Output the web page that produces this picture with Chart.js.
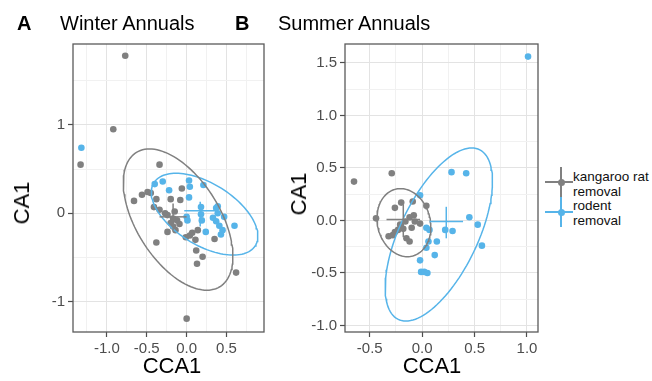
<!DOCTYPE html>
<html>
<head>
<meta charset="utf-8">
<script src="https://cdn.jsdelivr.net/npm/chart.js@4.4.0/dist/chart.umd.min.js"></script>
<style>
  body { margin: 0; background: #fff; }
  #wrap { position: relative; width: 652px; height: 381px; overflow: hidden; font-family: "Liberation Sans", Arial, sans-serif; }
  canvas { position: absolute; top: 0; }
  .txt { position: absolute; white-space: nowrap; line-height: 1; color: #000; }
  .panelTag { font-weight: bold; font-size: 20px; }
  .panelTitle { font-size: 20px; }
  .axTitle { font-size: 22px; transform: translate(-50%, -50%); }
  .axTitleY { font-size: 22px; transform: translate(-50%, -50%) rotate(-90deg); }
  .legTxt { font-size: 13.5px; line-height: 14.5px; color: #111; }
  .keyLine { position: absolute; }
  .keyDot { position: absolute; width: 7px; height: 7px; border-radius: 50%; }
</style>
</head>
<body>
<div id="wrap">
  <canvas id="winterChart" width="275" height="381" style="left:0px"></canvas>
  <canvas id="summerChart" width="270" height="381" style="left:275px"></canvas>

  <div class="txt panelTag" style="left:17px; top:13px">A</div>
  <div class="txt panelTitle" style="left:60px; top:13px">Winter Annuals</div>
  <div class="txt panelTag" style="left:235px; top:13px">B</div>
  <div class="txt panelTitle" style="left:278px; top:13px">Summer Annuals</div>

  <div class="txt axTitle" style="left:172px; top:366px">CCA1</div>
  <div class="txt axTitleY" style="left:22px; top:203px">CA1</div>
  <div class="txt axTitle" style="left:432px; top:366px">CCA1</div>
  <div class="txt axTitleY" style="left:299px; top:194px">CA1</div>

  <!-- legenda -->
  <div class="keyLine" style="left:560px; top:167px; width:1.5px; height:30px; background:#808080"></div>
  <div class="keyLine" style="left:545px; top:181px; width:28px; height:1.5px; background:#808080"></div>
  <div class="keyDot" style="left:557.5px; top:178.5px; background:#808080"></div>
  <div class="keyLine" style="left:560px; top:197px; width:1.5px; height:30px; background:#56B4E9"></div>
  <div class="keyLine" style="left:545px; top:211px; width:28px; height:1.5px; background:#56B4E9"></div>
  <div class="keyDot" style="left:557.5px; top:208.5px; background:#56B4E9"></div>
  <div class="txt legTxt" style="left:573px; top:170px">kangaroo rat<br>removal</div>
  <div class="txt legTxt" style="left:573px; top:199px">rodent<br>removal</div>
</div>

<script>
// Painel A - winter annuals
const winterKratX = [-0.77, -0.92, -1.33, -0.34, 0.0, 0.62, -0.38, -0.66, -0.56, -0.49, -0.45, -0.38, -0.06, -0.08, -0.2, -0.41, -0.34, -0.24, -0.17, -0.2, -0.12, -0.15, -0.09, -0.14, -0.24, -0.01, 0.07, 0.14, 0.11, 0.35, 0.12, 0.2, 0.13, -0.17, -0.27, 0.04];
const winterKratY = [1.78, 0.95, 0.55, 0.55, -1.19, -0.67, -0.33, 0.14, 0.21, 0.24, 0.23, 0.16, 0.28, 0.15, 0.16, 0.07, 0.04, -0.02, -0.06, -0.11, -0.08, 0.02, -0.12, -0.19, -0.21, -0.27, -0.22, -0.19, -0.3, -0.29, -0.42, -0.49, -0.57, -0.15, 0.0, -0.25];
const winterRodentX = [-1.32, -0.4, -0.3, -0.22, 0.03, 0.04, 0.21, 0.03, 0.0, 0.01, 0.18, 0.18, 0.19, 0.24, 0.37, 0.39, 0.33, 0.37, 0.41, 0.45, 0.47, 0.6, 0.43, 0.39];
const winterRodentY = [0.74, 0.33, 0.36, 0.26, 0.37, 0.3, 0.32, 0.18, -0.04, -0.08, 0.07, -0.01, -0.08, -0.21, 0.06, 0.0, -0.05, -0.09, -0.14, -0.19, -0.04, -0.14, -0.24, 0.08];

// Painel B - summer annuals
const summerKratX = [-0.65, -0.29, -0.44, -0.26, -0.2, -0.09, 0.04, -0.32, -0.26, -0.23, -0.18, -0.16, -0.12, -0.08, -0.07, -0.1, -0.02, -0.15, -0.12, -0.28, -0.21];
const summerKratY = [0.37, 0.45, 0.02, 0.12, 0.17, 0.18, 0.14, -0.15, -0.11, -0.09, -0.08, -0.01, 0.03, 0.05, -0.01, -0.07, -0.03, -0.17, -0.2, -0.14, -0.04];
const summerRodentX = [1.01, 0.28, 0.42, 0.45, 0.53, 0.57, -0.02, 0.04, 0.07, 0.22, 0.29, 0.06, 0.14, 0.04, 0.12, -0.02, -0.01, 0.05, 0.02];
const summerRodentY = [1.56, 0.46, 0.45, 0.03, -0.04, -0.24, 0.24, -0.07, -0.09, -0.09, -0.1, -0.2, -0.2, -0.26, -0.33, -0.38, -0.49, -0.5, -0.49];

// Cruzes (centro, extremos em x, extremos em y)
const winterKratCross = [-0.17, -0.04], winterKratCrossX = [-0.34, 0.0], winterKratCrossY = [-0.19, 0.11];
const winterRodentCross = [0.17, 0.03], winterRodentCrossX = [-0.03, 0.37], winterRodentCrossY = [-0.15, 0.13];
const summerKratCross = [-0.18, 0.01], summerKratCrossX = [-0.34, -0.02], summerKratCrossY = [-0.16, 0.15];
const summerRodentCross = [0.23, -0.01], summerRodentCrossX = [0.07, 0.39], summerRodentCrossY = [-0.17, 0.13];

// Elipses: centro e dois semi-eixos conjugados
const winterKratEllC = [-0.107, -0.071], winterKratEllU = [0.586, 0], winterKratEllV = [-0.359, 0.798];
const winterRodentEllC = [0.225, -0.01], winterRodentEllU = [0.564, 0], winterRodentEllV = [-0.358, 0.462];
const summerKratEllC = [-0.174, -0.021], summerKratEllU = [0.255, 0], summerKratEllV = [-0.033, 0.324];
const summerRodentEllC = [0.159, -0.134], summerRodentEllU = [0.404, 0], summerRodentEllV = [0.314, 0.824];

// Eixos
const winterXRange = [-1.425, 0.97], winterYRange = [-1.341, 1.913];
const winterXTicks = [-1.0, -0.5, 0.0, 0.5], winterXLabels = ["-1.0", "-0.5", "0.0", "0.5"], winterXMinor = [-1.25, -0.75, -0.25, 0.25, 0.75];
const winterYTicks = [-1, 0, 1], winterYLabels = ["-1", "0", "1"], winterYMinor = [-0.5, 0.5, 1.5];
const summerXRange = [-0.736, 1.105], summerYRange = [-1.062, 1.68];
const summerXTicks = [-0.5, 0.0, 0.5, 1.0], summerXLabels = ["-0.5", "0.0", "0.5", "1.0"], summerXMinor = [-0.25, 0.25, 0.75];
const summerYTicks = [-1.0, -0.5, 0.0, 0.5, 1.0, 1.5], summerYLabels = ["-1.0", "-0.5", "0.0", "0.5", "1.0", "1.5"], summerYMinor = [-0.75, -0.25, 0.25, 0.75, 1.25];

// Cores
const cGrey = "#808080";
const cBlue = "#56B4E9";
const fontFam = "'Liberation Sans', Arial, sans-serif";

function pts(xs, ys) {
  return xs.map((x, i) => ({ x: x, y: ys[i] }));
}

function ellipse(c, u, v) {
  const out = [];
  for (let k = 0; k <= 120; k++) {
    const t = (k / 120) * 2 * Math.PI;
    out.push({
      x: c[0] + u[0] * Math.cos(t) + v[0] * Math.sin(t),
      y: c[1] + u[1] * Math.cos(t) + v[1] * Math.sin(t),
    });
  }
  return out;
}

function lineSet(data, color, order) {
  return { data: data, showLine: true, borderColor: color, borderWidth: 1.5, pointRadius: 0, fill: false, order: order };
}

function crossSets(c, xr, yr, color) {
  return [
    lineSet([{ x: xr[0], y: c[1] }, { x: xr[1], y: c[1] }], color, 0),
    lineSet([{ x: c[0], y: yr[0] }, { x: c[0], y: yr[1] }], color, 0),
  ];
}

function axis(range, major, labels, minor, fit) {
  const all = major.concat(minor).filter((v) => v >= range[0] && v <= range[1]).sort((a, b) => a - b);
  const isMajor = (v) => major.some((m) => Math.abs(m - v) < 1e-9);
  return {
    type: "linear",
    min: range[0],
    max: range[1],
    afterBuildTicks: (s) => {
      s.ticks = all.map((v) => ({ value: v }));
    },
    afterFit: fit,
    border: { display: false },
    grid: {
      color: (c) => (c.tick && isMajor(c.tick.value) ? "#e3e3e3" : "#f1f1f1"),
      lineWidth: 1,
      tickLength: 5,
      tickWidth: 1.2,
      tickColor: (c) => (c.tick && isMajor(c.tick.value) ? "#4d4d4d" : "rgba(0,0,0,0)"),
    },
    ticks: {
      autoSkip: false,
      maxRotation: 0,
      padding: 3,
      color: "#4d4d4d",
      font: { family: fontFam, size: 15 },
      callback: (v) => {
        const i = major.findIndex((m) => Math.abs(m - v) < 1e-9);
        return i >= 0 ? labels[i] : "";
      },
    },
  };
}

// Moldura do painel
const panelBorder = {
  id: "panelBorder",
  afterDatasetsDraw(chart) {
    const a = chart.chartArea;
    const ctx = chart.ctx;
    ctx.save();
    ctx.strokeStyle = "#5a5a5a";
    ctx.lineWidth = 1.3;
    ctx.strokeRect(a.left, a.top, a.right - a.left, a.bottom - a.top);
    ctx.restore();
  },
};

function makePanel(id, d) {
  const ctx = document.getElementById(id).getContext("2d");
  return new Chart(ctx, {
    type: "scatter",
    data: {
      datasets: [
        ...crossSets(d.kCross, d.kCrossX, d.kCrossY, cGrey),
        ...crossSets(d.rCross, d.rCrossX, d.rCrossY, cBlue),
        lineSet(ellipse(d.kEll[0], d.kEll[1], d.kEll[2]), cGrey, 1),
        lineSet(ellipse(d.rEll[0], d.rEll[1], d.rEll[2]), cBlue, 1),
        { data: d.rPts, pointRadius: 3.3, pointBackgroundColor: cBlue, pointBorderWidth: 0, order: 2 },
        { data: d.kPts, pointRadius: 3.3, pointBackgroundColor: cGrey, pointBorderWidth: 0, order: 3 },
      ],
    },
    options: {
      responsive: false,
      animation: false,
      devicePixelRatio: 1,
      layout: { padding: { left: 0, top: 44, right: d.padRight, bottom: 0 } },
      plugins: { legend: { display: false }, tooltip: { enabled: false } },
      scales: {
        x: axis(d.xRange, d.xTicks, d.xLabels, d.xMinor, (s) => { s.height = 49; }),
        y: axis(d.yRange, d.yTicks, d.yLabels, d.yMinor, (s) => { s.width = d.yWidth; }),
      },
    },
    plugins: [panelBorder],
  });
}

makePanel("winterChart", {
  kPts: pts(winterKratX, winterKratY),
  rPts: pts(winterRodentX, winterRodentY),
  kCross: winterKratCross, kCrossX: winterKratCrossX, kCrossY: winterKratCrossY,
  rCross: winterRodentCross, rCrossX: winterRodentCrossX, rCrossY: winterRodentCrossY,
  kEll: [winterKratEllC, winterKratEllU, winterKratEllV],
  rEll: [winterRodentEllC, winterRodentEllU, winterRodentEllV],
  xRange: winterXRange, xTicks: winterXTicks, xLabels: winterXLabels, xMinor: winterXMinor,
  yRange: winterYRange, yTicks: winterYTicks, yLabels: winterYLabels, yMinor: winterYMinor,
  yWidth: 73,
  padRight: 11,
});

makePanel("summerChart", {
  kPts: pts(summerKratX, summerKratY),
  rPts: pts(summerRodentX, summerRodentY),
  kCross: summerKratCross, kCrossX: summerKratCrossX, kCrossY: summerKratCrossY,
  rCross: summerRodentCross, rCrossX: summerRodentCrossX, rCrossY: summerRodentCrossY,
  kEll: [summerKratEllC, summerKratEllU, summerKratEllV],
  rEll: [summerRodentEllC, summerRodentEllU, summerRodentEllV],
  xRange: summerXRange, xTicks: summerXTicks, xLabels: summerXLabels, xMinor: summerXMinor,
  yRange: summerYRange, yTicks: summerYTicks, yLabels: summerYLabels, yMinor: summerYMinor,
  yWidth: 70,
  padRight: 7,
});
</script>
</body>
</html>
